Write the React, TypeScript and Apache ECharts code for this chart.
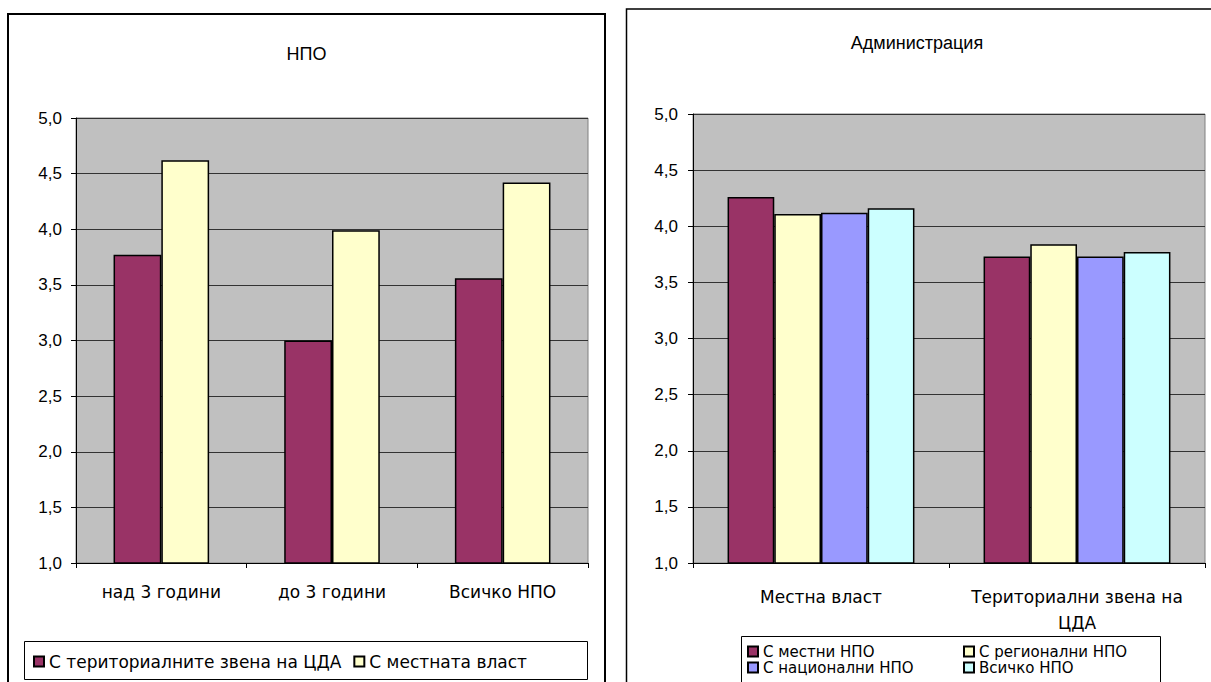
import React, { useEffect, useRef } from "react";
import * as echarts from "echarts";

const FONT = "'Liberation Sans', Arial, sans-serif";
const WIDE = "'DejaVu Sans', 'Liberation Sans', sans-serif";

// Left chart: НПО
const leftTitle = "НПО";
const leftCategories = ["над 3 години", "до 3 години", "Всичко НПО"];
const leftSeriesNames = ["С териториалните звена на ЦДА", "С местната власт"];
const leftTerritorial = [3.77, 3.0, 3.56];
const leftLocalAuthority = [4.62, 3.99, 4.42];

// Right chart: Администрация
const rightTitle = "Администрация";
const rightCategories = ["Местна власт", "Териториални звена на ЦДА"];
const rightSeriesNames = ["С местни НПО", "С регионални НПО", "С национални НПО", "Всичко НПО"];
const rightLocalNgo = [4.26, 3.73];
const rightRegionalNgo = [4.11, 3.84];
const rightNationalNgo = [4.12, 3.73];
const rightAllNgo = [4.16, 3.77];

const yMin = 1;
const yMax = 5;
const yStep = 0.5;

const colors = ["#993366", "#FFFFCC", "#9999FF", "#CCFFFF"];

const fmt = (v: number) => v.toFixed(1).replace(".", ",");

function yAxis(gridIndex: number, margin: number) {
  return {
    gridIndex,
    type: "value",
    min: yMin,
    max: yMax,
    interval: yStep,
    axisLine: { show: true, lineStyle: { color: "#000", width: 1 } },
    axisTick: { show: true, length: 5, lineStyle: { color: "#000" } },
    axisLabel: { formatter: fmt, color: "#000", fontSize: 17, fontFamily: FONT, margin },
    splitLine: { show: true, lineStyle: { color: "#333", width: 1 } },
  };
}

function xAxis(gridIndex: number, data: string[], margin: number, extra: any = {}) {
  return {
    gridIndex,
    type: "category",
    data,
    axisLine: { show: true, lineStyle: { color: "#000", width: 1 } },
    axisTick: { show: true, length: 5, interval: 0, alignWithLabel: false, lineStyle: { color: "#000" } },
    axisLabel: { color: "#000", fontSize: 17, fontFamily: WIDE, margin, interval: 0, ...extra },
    splitLine: { show: false },
  };
}

const legendText = { fontSize: 17, fontFamily: WIDE, color: "#000" };
const smallLegendText = { fontSize: 15, fontFamily: WIDE, color: "#000", lineHeight: 15 };

export default function App() {
  const ref = useRef<HTMLDivElement>(null);
  useEffect(() => {
    if (!ref.current) return;
    const chart = echarts.init(ref.current, null, { renderer: "svg" });
    const leftData = [leftTerritorial, leftLocalAuthority];
    const rightData = [rightLocalNgo, rightRegionalNgo, rightNationalNgo, rightAllNgo];
    const series: any[] = [];
    leftSeriesNames.forEach((name, i) => {
      series.push({
        name,
        type: "bar",
        xAxisIndex: 0,
        yAxisIndex: 0,
        data: leftData[i],
        barGap: "0%",
        barCategoryGap: "44%",
        itemStyle: { color: colors[i], borderColor: "#000", borderWidth: 1.5 },
      });
    });
    rightSeriesNames.forEach((name, i) => {
      series.push({
        name,
        type: "bar",
        xAxisIndex: 1,
        yAxisIndex: 1,
        data: rightData[i],
        barGap: "0%",
        barCategoryGap: "27%",
        itemStyle: { color: colors[i], borderColor: "#000", borderWidth: 1.5 },
      });
    });
    chart.setOption({
      animation: false,
      backgroundColor: "#fff",
      grid: [
        { left: 76, top: 118, width: 512, height: 445, show: true, backgroundColor: "#C0C0C0", borderColor: "#808080", borderWidth: 1 },
        { left: 693, top: 114, width: 512, height: 449, show: true, backgroundColor: "#C0C0C0", borderColor: "#808080", borderWidth: 1 },
      ],
      xAxis: [
        xAxis(0, leftCategories, 20),
        xAxis(1, rightCategories, 21, {
          lineHeight: 26,
          formatter: (v: string) => (v.length > 18 ? v.replace(/ (\S+)$/, "\n$1") : v),
        }),
      ],
      yAxis: [yAxis(0, 14), yAxis(1, 15)],
      legend: [
        {
          data: leftSeriesNames,
          left: 33,
          top: 653,
          padding: 0,
          itemWidth: 10,
          itemHeight: 10,
          itemGap: 12,
          icon: "rect",
          selectedMode: false,
          textStyle: legendText,
        },
        {
          data: [rightSeriesNames[0], rightSeriesNames[2]],
          orient: "vertical",
          left: 747,
          top: 644,
          padding: 0,
          itemWidth: 10,
          itemHeight: 10,
          itemGap: 1,
          icon: "rect",
          selectedMode: false,
          textStyle: smallLegendText,
        },
        {
          data: [rightSeriesNames[1], rightSeriesNames[3]],
          orient: "vertical",
          left: 963,
          top: 644,
          padding: 0,
          itemWidth: 10,
          itemHeight: 10,
          itemGap: 1,
          icon: "rect",
          selectedMode: false,
          textStyle: smallLegendText,
        },
      ],
      graphic: [
        { type: "rect", z: -1, shape: { x: 8, y: 14, width: 597, height: 690 }, style: { fill: "none", stroke: "#000", lineWidth: 2 } },
        { type: "rect", z: -1, shape: { x: 626.5, y: 9, width: 600, height: 690 }, style: { fill: "none", stroke: "#000", lineWidth: 1.5 } },
        { type: "rect", z: 0, shape: { x: 24.5, y: 641.5, width: 563, height: 38 }, style: { fill: "#fff", stroke: "#000", lineWidth: 1 } },
        { type: "rect", z: 0, shape: { x: 741.5, y: 636.5, width: 419, height: 60 }, style: { fill: "#fff", stroke: "#000", lineWidth: 1 } },
        { type: "text", x: 306.5, y: 54, style: { text: leftTitle, align: "center", verticalAlign: "middle", font: `18px ${FONT}`, fill: "#000" } },
        { type: "text", x: 917, y: 43, style: { text: rightTitle, align: "center", verticalAlign: "middle", font: `18px ${FONT}`, fill: "#000" } },
      ],
      series,
    });
    return () => chart.dispose();
  }, []);
  return <div ref={ref} style={{ position: "absolute", left: 0, top: 0, width: 1211, height: 682 }} />;
}
